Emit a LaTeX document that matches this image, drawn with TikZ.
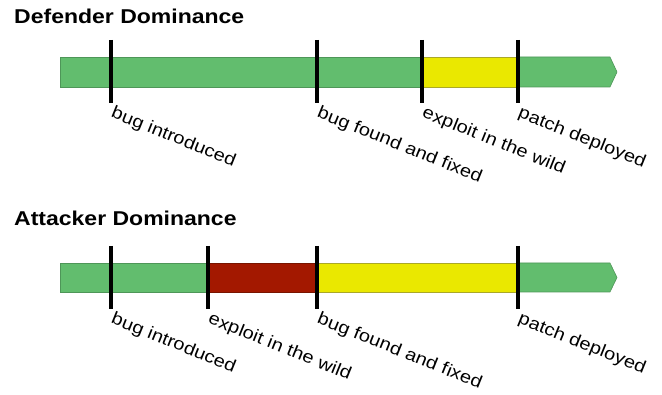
\documentclass[tikz,border=0pt]{standalone}
\usepackage{fontspec}
\setmainfont{Liberation Sans}[FakeStretch=1.15]
\usetikzlibrary{calc}
\definecolor{bargreen}{RGB}{98,189,110}
\definecolor{greenedge}{RGB}{78,150,88}
\definecolor{baryellow}{RGB}{234,232,0}
\definecolor{yellowedge}{RGB}{170,168,40}
\definecolor{barred}{RGB}{163,24,0}
\definecolor{rededge}{RGB}{120,20,0}
\begin{document}
\begin{tikzpicture}[x=1pt,y=-1pt,
  seg/.style={line width=0.6pt},
  gseg/.style={seg,fill=bargreen,draw=greenedge},
  yseg/.style={seg,fill=baryellow,draw=yellowedge},
  rseg/.style={seg,fill=barred,draw=rededge},
  tick/.style={line width=3.2pt,black},
  lbl/.style={anchor=north west,rotate=-22,inner sep=0pt,font=\fontsize{17.4}{20}\selectfont},
  ttl/.style={anchor=base west,inner sep=0pt,font=\fontsize{20}{23}\selectfont\bfseries}]
\useasboundingbox (0,0) rectangle (662,395);
% ---------- Defender Dominance ----------
\node[ttl] (t1) at (14,24) {Defender Dominance};
\draw[gseg] (60,57) rectangle (422,87);
\draw[yseg] (422,57) rectangle (518,87);
\draw[gseg] (518,57) -- (610,57) -- (617,72) -- (610,87) -- (518,87) -- cycle;
\foreach \x/\n in {111/a,317/b,422/c,518/d}{
  \coordinate (d\n-top) at (\x,40);
  \coordinate (d\n-bot) at (\x,103);
  \draw[tick] (d\n-top) -- (d\n-bot);
}
\node[lbl] (d-l1) at ($(da-bot)+(4,2)$) {bug introduced};
\node[lbl] (d-l2) at ($(db-bot)+(4,2)$) {bug found and fixed};
\node[lbl] (d-l3) at ($(dc-bot)+(4,2)$) {exploit in the wild};
\node[lbl] (d-l4) at ($(dd-bot)+(4,2)$) {patch deployed};
% ---------- Attacker Dominance ----------
\node[ttl] (t2) at (14,226) {Attacker Dominance};
\draw[gseg] (60,263) rectangle (208,292);
\draw[rseg] (208,263) rectangle (317,292);
\draw[yseg] (317,263) rectangle (518,292);
\draw[gseg] (518,263) -- (610,263) -- (617,277.5) -- (610,292) -- (518,292) -- cycle;
\foreach \x/\n in {111/a,208/b,317/c,518/d}{
  \coordinate (a\n-top) at (\x,246);
  \coordinate (a\n-bot) at (\x,309);
  \draw[tick] (a\n-top) -- (a\n-bot);
}
\node[lbl] (a-l1) at ($(aa-bot)+(4,2)$) {bug introduced};
\node[lbl] (a-l2) at ($(ab-bot)+(4,2)$) {exploit in the wild};
\node[lbl] (a-l3) at ($(ac-bot)+(4,2)$) {bug found and fixed};
\node[lbl] (a-l4) at ($(ad-bot)+(4,2)$) {patch deployed};
\end{tikzpicture}
\end{document}
